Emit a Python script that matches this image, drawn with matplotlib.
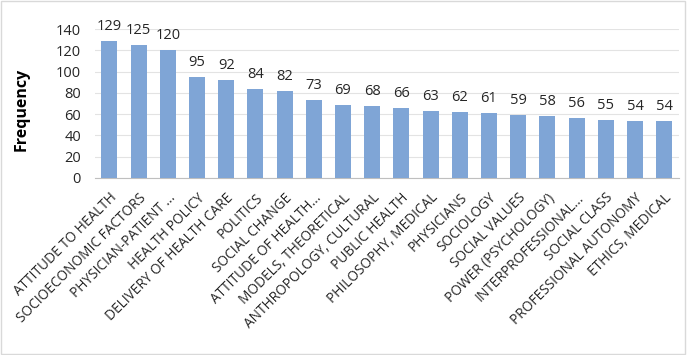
import matplotlib.pyplot as plt

# data
categories = ['ATTITUDE TO HEALTH', 'SOCIOECONOMIC FACTORS', 'PHYSICIAN-PATIENT ...',
              'HEALTH POLICY', 'DELIVERY OF HEALTH CARE', 'POLITICS', 'SOCIAL CHANGE',
              'ATTITUDE OF HEALTH...', 'MODELS, THEORETICAL', 'ANTHROPOLOGY, CULTURAL',
              'PUBLIC HEALTH', 'PHILOSOPHY, MEDICAL', 'PHYSICIANS', 'SOCIOLOGY',
              'SOCIAL VALUES', 'POWER (PSYCHOLOGY)', 'INTERPROFESSIONAL...',
              'SOCIAL CLASS', 'PROFESSIONAL AUTONOMY', 'ETHICS, MEDICAL']
frequency = [129, 125, 120, 95, 92, 84, 82, 73, 69, 68, 66, 63, 62, 61, 59, 58, 56, 55, 54, 54]

plt.rcParams['font.family'] = ['Open Sans', 'DejaVu Sans']

fig = plt.figure(figsize=(6.87, 3.55), dpi=100)
ax = fig.add_axes([0.138, 0.4986, 0.85, 0.4194])

x = range(len(categories))
ax.bar(x, frequency, width=0.55, color='#7fa5d6', zorder=3)
for xi, v in zip(x, frequency):
    ax.annotate(str(v), (xi, v), xytext=(0, 5), textcoords='offset points',
                ha='center', va='bottom', fontsize=10.5, color='#262626')

ax.set_xlim(-0.5, len(categories) - 0.5)
ax.set_ylim(0, 140)
ax.set_yticks(range(0, 141, 20))
ax.grid(axis='y', color='#e3e3e3', linewidth=0.8, zorder=0)
for s in ['top', 'right', 'left']:
    ax.spines[s].set_visible(False)
ax.spines['bottom'].set_color('#bfbfbf')
ax.tick_params(length=0, colors='#262626')
ax.tick_params(axis='y', pad=10, labelsize=10.5)
ax.tick_params(axis='x', pad=9)
ax.set_xticks(list(x))
ax.set_xticklabels(categories, rotation=45, ha='right', rotation_mode='anchor', fontsize=9.8)
ax.set_ylabel('Frequency', fontsize=11.5, fontweight='bold')
ax.yaxis.set_label_coords(-0.112, 0.46)

# light frame round the figure
fig.patches.append(plt.Rectangle((0.002, 0.003), 0.995, 0.993, transform=fig.transFigure,
                                 fill=False, edgecolor='#d9d9d9', linewidth=1))

fig.savefig('out.png', dpi=100)
